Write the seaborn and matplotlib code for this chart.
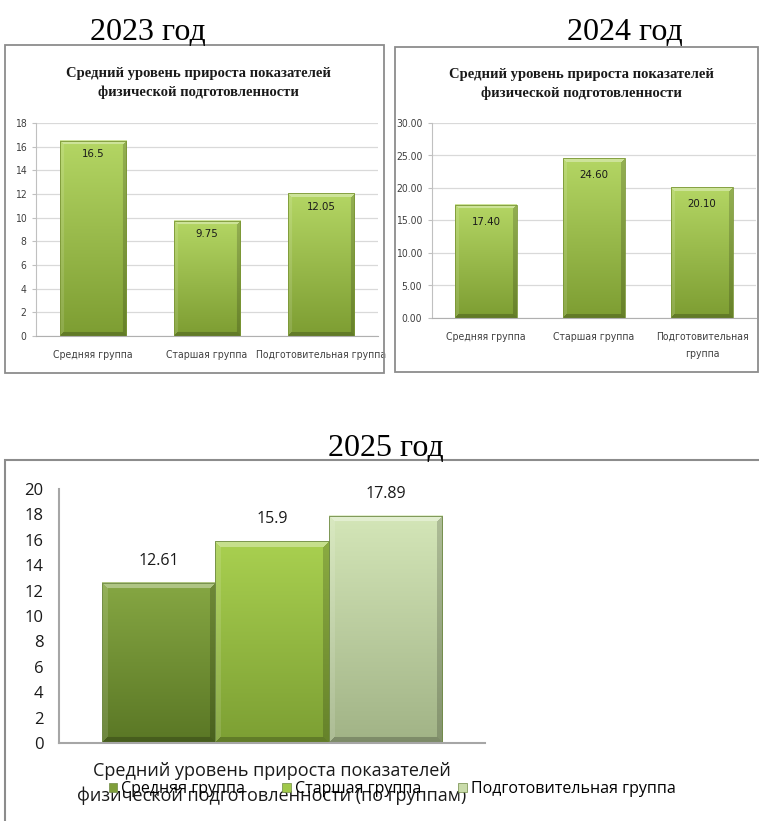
import numpy as np
import pandas as pd
import matplotlib
matplotlib.use("Agg")
import matplotlib.pyplot as plt
import seaborn as sns
from matplotlib.patches import Rectangle
from matplotlib import font_manager
from matplotlib.colors import to_rgb

# ---------------- data ----------------
years = ["2023 год", "2024 год", "2025 год"]
chart_title = "Средний уровень прироста показателей\nфизической подготовленности"

groups_2023 = ["Средняя группа", "Старшая группа", "Подготовительная группа"]
values_2023 = [16.5, 9.75, 12.05]
labels_2023 = ["16.5", "9.75", "12.05"]

groups_2024 = ["Средняя группа", "Старшая группа", "Подготовительная\nгруппа"]
values_2024 = [17.40, 24.60, 20.10]
labels_2024 = ["17.40", "24.60", "20.10"]

category_2025 = "Средний уровень прироста показателей\nфизической подготовленности (по группам)"
groups_2025 = ["Средняя группа", "Старшая группа", "Подготовительная группа"]
values_2025 = [12.61, 15.9, 17.89]
labels_2025 = ["12.61", "15.9", "17.89"]

# ---------------- style ----------------
W, H = 759, 821
ttf = font_manager.fontManager.ttflist
names = {f.name for f in ttf}
if "Liberation Sans Narrow" in names:
    NARROW = dict(family="Liberation Sans Narrow", size=8.5)
elif any(f.name == "DejaVu Sans" and "Condensed" in f.fname for f in ttf):
    NARROW = dict(family="DejaVu Sans", stretch="condensed", size=7.5)
else:
    NARROW = dict(family="Liberation Sans", size=7.3)
SERIF = "Liberation Serif"
SANS = "Open Sans"

fig = plt.figure(figsize=(W / 100, H / 100), dpi=100)
fig.patch.set_facecolor("white")


def rect_px(x0, y0, x1, y1):
    return [x0 / W, 1 - y1 / H, (x1 - x0) / W, (y1 - y0) / H]


def box_px(x0, y0, x1, y1, lw=1.3, color="#8c8c8c"):
    fig.add_artist(Rectangle((x0 / W, 1 - y1 / H), (x1 - x0) / W, (y1 - y0) / H,
                             transform=fig.transFigure, fill=False, ec=color, lw=lw))


def narrow_font(t, size=None):
    t.set_fontfamily(NARROW["family"])
    if "stretch" in NARROW:
        t.set_fontstretch(NARROW["stretch"])
    t.set_fontsize(size if size else NARROW["size"])


def bevel_bar(ax, patch, top, bot, b=5, edge=None):
    fig.canvas.draw()
    x0, y0 = patch.get_x(), patch.get_y()
    w, h = patch.get_width(), patch.get_height()
    (px0, py0), (px1, py1) = ax.transData.transform([(x0, y0), (x0 + w, y0 + h)])
    wp, hp = max(int(round(px1 - px0)), 2), max(int(round(py1 - py0)), 2)
    top, bot = np.array(to_rgb(top)), np.array(to_rgb(bot))
    t = np.linspace(1, 0, hp)[:, None, None]
    img = bot + (top - bot) * t
    img = np.repeat(img, wp, axis=1)
    yy, xx = np.mgrid[0:hp, 0:wp]
    d = np.stack([yy, hp - 1 - yy, xx, wp - 1 - xx])
    which = np.argmin(d, axis=0)
    m = d.min(axis=0) < b
    white, black = np.ones(3), np.zeros(3)
    mixes = [(white, 0.35), (black, 0.22), (white, 0.12), (black, 0.18)]
    for k, (c, a) in enumerate(mixes):
        sel = m & (which == k)
        img[sel] = img[sel] * (1 - a) + c * a
    ax.imshow(img, extent=(x0, x0 + w, y0, y0 + h), origin="upper", aspect="auto",
              zorder=patch.get_zorder() + 0.1, interpolation="bilinear")
    patch.set_facecolor("none")
    patch.set_edgecolor(edge if edge else "none")
    patch.set_linewidth(0.6)
    patch.set_zorder(patch.get_zorder() + 0.2)


def style_small(ax, ymax, step, fmt):
    ax.set_xlim(-0.5, 2.5)
    ax.set_ylim(0, ymax)
    ticks = np.arange(0, ymax + 0.001, step)
    ax.set_yticks(ticks)
    ax.set_yticklabels([fmt.format(v) for v in ticks])
    ax.yaxis.grid(True, color="#d9d9d9", lw=0.9)
    ax.set_axisbelow(True)
    for s in ["top", "right"]:
        ax.spines[s].set_visible(False)
    ax.spines["left"].set_color("#c0c0c0")
    ax.spines["bottom"].set_color("#b0b0b0")
    ax.set_xlabel("")
    ax.set_ylabel("")
    ax.tick_params(axis="x", length=0, pad=10, labelcolor="#404040")
    ax.tick_params(axis="y", length=3, color="#c0c0c0", pad=4, labelcolor="#404040")
    for lab in ax.get_xticklabels() + ax.get_yticklabels():
        narrow_font(lab)


# ---------------- 2023 ----------------
ax1 = fig.add_axes(rect_px(36, 123, 378, 336))
sns.barplot(x=groups_2023, y=values_2023, ax=ax1, width=0.58, color="#9bbb59",
            saturation=1, errorbar=None)
style_small(ax1, 18, 2, "{:.0f}")
for p in list(ax1.patches):
    bevel_bar(ax1, p, "#b4d664", "#7d9d32", b=4, edge="#7a9634")
ax1.set_xlim(-0.5, 2.5); ax1.set_ylim(0, 18)
for p, lab in zip(ax1.patches, labels_2023):
    t = ax1.annotate(lab, (p.get_x() + p.get_width() / 2, p.get_height()), xytext=(0, -9.5),
                     textcoords="offset points", ha="center", va="center",
                     color="#1a1a1a", zorder=10)
    narrow_font(t, NARROW["size"] + 0.7)

# ---------------- 2024 ----------------
ax2 = fig.add_axes(rect_px(432, 123, 756, 318))
sns.barplot(x=groups_2024, y=values_2024, ax=ax2, width=0.57, color="#9bbb59",
            saturation=1, errorbar=None)
style_small(ax2, 30, 5, "{:.2f}")
for lab in ax2.get_xticklabels():
    lab.set_linespacing(1.9)
for p in list(ax2.patches):
    bevel_bar(ax2, p, "#b4d664", "#7d9d32", b=4, edge="#7a9634")
ax2.set_xlim(-0.5, 2.5); ax2.set_ylim(0, 30)
for p, lab in zip(ax2.patches, labels_2024):
    t = ax2.annotate(lab, (p.get_x() + p.get_width() / 2, p.get_height()), xytext=(0, -12),
                     textcoords="offset points", ha="center", va="center",
                     color="#1a1a1a", zorder=10)
    narrow_font(t, NARROW["size"] + 0.7)

# titles of small charts
fig.text(198 / W, 1 - 83 / H, chart_title, ha="center", va="center", family=SERIF,
         weight="bold", fontsize=10.5, linespacing=1.45, color="#1a1a1a")
fig.text(581 / W, 1 - 84 / H, chart_title, ha="center", va="center", family=SERIF,
         weight="bold", fontsize=10.5, linespacing=1.45, color="#1a1a1a")

# ---------------- 2025 ----------------
ax3 = fig.add_axes(rect_px(59, 489, 485, 743))
df25 = pd.DataFrame({"cat": [category_2025] * len(groups_2025),
                     "group": groups_2025, "val": values_2025})
pal25 = ["#77933c", "#9bbb59", "#c3d69b"]
sns.barplot(data=df25, x="cat", y="val", hue="group", hue_order=groups_2025,
            palette=pal25, width=0.8, saturation=1, errorbar=None, legend=False, ax=ax3)
ax3.set_xlim(-0.5, 0.5)
ax3.set_ylim(0, 20)
ax3.set_yticks(np.arange(0, 21, 2))
for s in ["top", "right"]:
    ax3.spines[s].set_visible(False)
ax3.spines["left"].set_color("#a6a6a6")
ax3.spines["bottom"].set_color("#a6a6a6")
ax3.spines["left"].set_linewidth(1.5)
ax3.spines["bottom"].set_linewidth(1.5)
ax3.set_xlabel("")
ax3.set_ylabel("")
ax3.tick_params(axis="y", length=0, pad=11, labelsize=12, labelcolor="#1a1a1a")
ax3.tick_params(axis="x", length=0, pad=14, labelsize=13, labelcolor="#1a1a1a")
for lab in ax3.get_yticklabels() + ax3.get_xticklabels():
    lab.set_fontfamily(SANS)
for lab in ax3.get_xticklabels():
    lab.set_linespacing(1.45)

grads25 = [("#86a743", "#5a7725"), ("#a9d050", "#7c9f33"), ("#d4e6b8", "#a1b386")]
bars25 = sorted(list(ax3.patches), key=lambda p: p.get_x())
for p, (tc, bc) in zip(bars25, grads25):
    bevel_bar(ax3, p, tc, bc, b=6, edge="#6f8a45")
ax3.set_xlim(-0.5, 0.5); ax3.set_ylim(0, 20)
for p, lab in zip(bars25, labels_2025):
    ax3.annotate(lab, (p.get_x() + p.get_width() / 2, p.get_height()), xytext=(0, 16),
                 textcoords="offset points", ha="center", va="center", fontsize=11.5,
                 family=SANS, color="#1a1a1a", zorder=10)

handles = [Rectangle((0, 0), 1, 1, fc=c, ec="#6f8a45", lw=0.5) for c in ["#7f9e3a", "#a0c84a", "#c9dbaa"]]
fig.legend(handles, groups_2025, loc="center", bbox_to_anchor=(392 / W, 1 - 789 / H),
           bbox_transform=fig.transFigure, ncol=3, frameon=False, handlelength=0.55,
           handleheight=0.55, handletextpad=0.25, columnspacing=2.3,
           prop={"family": SANS, "size": 11.5})

# year headings
fig.text(148 / W, 1 - 40 / H, years[0], ha="center", va="baseline", family=SERIF, fontsize=23)
fig.text(625 / W, 1 - 40 / H, years[1], ha="center", va="baseline", family=SERIF, fontsize=23)
fig.text(386 / W, 1 - 456 / H, years[2], ha="center", va="baseline", family=SERIF, fontsize=23)

# panel borders
box_px(5, 45, 384, 373)
box_px(395, 47, 758, 372)
box_px(5, 460, 790, 850, lw=1.5)

fig.savefig("out.png", dpi=100, facecolor="white")
